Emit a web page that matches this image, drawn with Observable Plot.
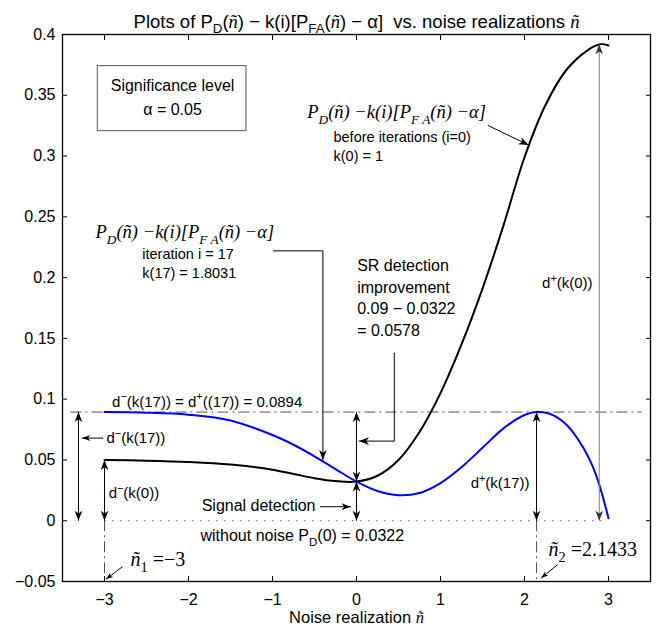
<!DOCTYPE html>
<html><head><meta charset="utf-8">
<script src="https://cdn.jsdelivr.net/npm/d3@7"></script>
<script src="https://cdn.jsdelivr.net/npm/@observablehq/plot@0.6"></script>
<style>body{margin:0;background:#fff} svg{display:block}</style>
</head><body><div id="chart"></div>
<script>
// ---- data ----
const xBlack = [-3.0,-2.5,-2.0,-1.5,-1.0,-0.75,-0.5,-0.25,0.0,0.25,0.5,0.75,1.0,1.25,1.5,1.75,2.0,2.25,2.5,2.75,2.9,3.0];
const yBlack = [0.0500,0.0494,0.0483,0.0462,0.0420,0.0385,0.0350,0.0326,0.0322,0.0370,0.0500,0.0730,0.1050,0.1450,0.1910,0.2430,0.2990,0.3420,0.3710,0.3870,0.3920,0.3910];
const xBlue = [-3.0,-2.5,-2.0,-1.5,-1.0,-0.75,-0.5,-0.25,0.0,0.25,0.5,0.75,1.0,1.25,1.5,1.75,2.0,2.1433,2.3,2.5,2.7,2.85,3.0];
const yBlue = [0.0894,0.0889,0.0872,0.0825,0.0705,0.0625,0.0530,0.0425,0.0322,0.0245,0.0210,0.0228,0.0310,0.0440,0.0600,0.0760,0.0870,0.0894,0.0880,0.0790,0.0600,0.0380,0.0020];
const xTicks = [-3,-2,-1,0,1,2,3];
const yTicks = [-0.05,0,0.05,0.1,0.15,0.2,0.25,0.3,0.35,0.4];
const xDomain = [-3.5, 3.5];
const yDomain = [-0.05, 0.4];

// key values
const dPlus17 = 0.0894, pd0 = 0.0322, n1 = -3, n2 = 2.1433, peak0 = 0.392, start0 = 0.05;

// double-headed vertical arrows
const dblArrows = [
  {x: -3.31, y1: 0, y2: dPlus17},
  {x: n1, y1: 0, y2: start0},
  {x: 0, y1: pd0, y2: dPlus17},
  {x: 0, y1: 0, y2: pd0},
  {x: n2, y1: 0, y2: dPlus17}
];
const grayArrow = [{x: 2.89, y1: 0, y2: peak0}];

// single-headed (poly)line arrows, head at the last point
const arrowPaths = [
  [[-3.02, 0.068], [-3.265, 0.068]],
  [[1.57, 0.325], [2.05, 0.309]],
  [[-0.99, 0.222], [-0.40, 0.222], [-0.40, 0.050]],
  [[0.45, 0.138], [0.45, 0.0655], [0.03, 0.0655]],
  [[-0.43, 0.0115], [-0.07, 0.0115]],
  [[-2.79, -0.038], [-2.98, -0.048]],
  [[2.39, -0.0364], [2.20, -0.047]]
];
const arrowHeadSizes = [8, 10, 10, 10, 9, 7, 7];

// texts
const titleText = "Plots of P_{D}(*{ñ}) − k(i)[P_{FA}(*{ñ}) − α]  vs. noise realizations *{ñ}";
const xLabelText = "Noise realization *{ñ}";
const mathLabels = [
  {x: -0.587, y: 0.336, text: "P_{D}(ñ) −k(i)[P_{F A}(ñ) −α]"},
  {x: -3.107, y: 0.2374, text: "P_{D}(ñ) −k(i)[P_{F A}(ñ) −α]"}
];
const smallLabels = [
  {x: -0.274, y: 0.3085, text: "before iterations (i=0)\nk(0) = 1"},
  {x: -2.55, y: 0.2125, text: "iteration i = 17\nk(17) = 1.8031"}
];
const boxLabel = [{x: -2.19, y: 0.350, text: "Significance level\nα = 0.05"}];
const box = [{x1: -3.08, x2: -1.31, y1: 0.3205, y2: 0.374}];
const srLabel = [{x: 0.008, y: 0.1845, text: "SR detection\nimprovement\n0.09 − 0.0322\n= 0.0578"}];
const startLabels = [
  {x: -1.857, y: -0.0127, text: "without noise P_{D}(0) = 0.0322", size: 16},
  {x: -2.91, y: 0.0979, text: "d^{−}(k(17)) = d^{+}((17)) = 0.0894", size: 15},
  {x: -2.976, y: 0.068, text: "d^{−}(k(17))", size: 15},
  {x: -2.95, y: 0.0228, text: "d^{−}(k(0))", size: 15}
];
const endLabels = [
  {x: -0.488, y: 0.0121, text: "Signal detection", size: 16},
  {x: 2.06, y: 0.031, text: "d^{+}(k(17))", size: 15},
  {x: 2.81, y: 0.1953, text: "d^{+}(k(0))", size: 15}
];
const nLabels = [
  {x: -2.69, y: -0.0323, text: "*{ñ}_{1} =−3"},
  {x: 2.286, y: -0.024, text: "*{ñ}_{2} =2.1433"}
];

// ---- layout ----
const W = 667, H = 636, mL = 62, mR = 17, mT = 34, mB = 55;
const SANS = "'Liberation Sans', Arial, Helvetica, sans-serif";
const SERIF = "'Liberation Serif', 'Times New Roman', serif";
const fmt = d => String(Math.round(d * 100) / 100).replace("-", "−");
const xs = Plot.scale({x: {domain: xDomain, range: [mL, W - mR]}});
const ys = Plot.scale({y: {domain: yDomain, range: [H - mB, mT]}});

function arrowSymbol(theta) {
  return {
    draw(ctx, size) {
      const L = Math.sqrt(size / Math.PI), w = 0.38 * L, n = 0.72 * L;
      const c = Math.cos(theta), s = Math.sin(theta);
      const p = [[0, 0], [-w, L], [0, n], [w, L]].map(([a, b]) => [a * c - b * s, a * s + b * c]);
      ctx.moveTo(p[0][0], p[0][1]);
      for (let i = 1; i < p.length; i++) ctx.lineTo(p[i][0], p[i][1]);
      ctx.closePath();
    }
  };
}
const pts = (xa, ya) => xa.map((x, i) => ({x, y: ya[i]}));

const marks = [];
// reference lines
marks.push(Plot.ruleY([{y: dPlus17, x1: -3.4, x2: 3.4}], {y: "y", x1: "x1", x2: "x2", stroke: "#505050", strokeWidth: 1, strokeDasharray: "11,4,2,4"}));
marks.push(Plot.ruleY([{y: 0, x1: -3, x2: 3}], {y: "y", x1: "x1", x2: "x2", stroke: "#ff3030", strokeWidth: 1, strokeDasharray: "1.5,6.5"}));
marks.push(Plot.ruleX([{x: n1}, {x: n2}], {x: "x", y1: () => 0, y2: () => -0.05, stroke: "#505050", strokeWidth: 1, strokeDasharray: "11,4,2,4"}));
// curves
marks.push(Plot.line(pts(xBlack, yBlack), {x: "x", y: "y", stroke: "black", strokeWidth: 2, curve: "catmull-rom"}));
marks.push(Plot.line(pts(xBlue, yBlue), {x: "x", y: "y", stroke: "#0000ff", strokeWidth: 2, curve: "catmull-rom"}));
// box
marks.push(Plot.rect(box, {x1: "x1", x2: "x2", y1: "y1", y2: "y2", fill: "white", stroke: "#555", strokeWidth: 1}));
// double arrows
marks.push(Plot.link(dblArrows, {x1: "x", x2: "x", y1: "y1", y2: "y2", stroke: "black", strokeWidth: 1}));
marks.push(Plot.dot(dblArrows, {x: "x", y: "y1", r: 10, symbol: arrowSymbol(Math.PI), fill: "black", stroke: "none"}));
marks.push(Plot.dot(dblArrows, {x: "x", y: "y2", r: 10, symbol: arrowSymbol(0), fill: "black", stroke: "none"}));
marks.push(Plot.link(grayArrow, {x1: "x", x2: "x", y1: "y1", y2: "y2", stroke: "#808080", strokeWidth: 1}));
marks.push(Plot.dot(grayArrow, {x: "x", y: "y1", r: 10, symbol: arrowSymbol(Math.PI), fill: "#333", stroke: "none"}));
marks.push(Plot.dot(grayArrow, {x: "x", y: "y2", r: 10, symbol: arrowSymbol(0), fill: "#333", stroke: "none"}));
// single arrows
arrowPaths.forEach((p, i) => {
  const data = p.map(([x, y]) => ({x, y}));
  marks.push(Plot.line(data, {x: "x", y: "y", stroke: "black", strokeWidth: 1}));
  const a = p[p.length - 2], b = p[p.length - 1];
  const dx = xs.apply(b[0]) - xs.apply(a[0]), dy = ys.apply(b[1]) - ys.apply(a[1]);
  const theta = Math.atan2(dx, -dy);
  marks.push(Plot.dot([data[data.length - 1]], {x: "x", y: "y", r: arrowHeadSizes[i], symbol: arrowSymbol(theta), fill: "black", stroke: "none"}));
});
// texts
marks.push(Plot.text(mathLabels, {x: "x", y: "y", text: "text", textAnchor: "start", fontFamily: SERIF, fontStyle: "italic", fontSize: 18.5, fill: "black"}));
marks.push(Plot.text(smallLabels, {x: "x", y: "y", text: "text", textAnchor: "start", fontSize: 14.5, lineHeight: 1.27, fill: "black"}));
marks.push(Plot.text(boxLabel, {x: "x", y: "y", text: "text", textAnchor: "middle", fontSize: 16, lineHeight: 1.5, fill: "black"}));
marks.push(Plot.text(srLabel, {x: "x", y: "y", text: "text", textAnchor: "start", fontSize: 16, lineHeight: 1.36, fill: "black"}));
marks.push(Plot.text(startLabels, {x: "x", y: "y", text: "text", textAnchor: "start", fontSize: d => d.size, fill: "black"}));
marks.push(Plot.text(endLabels, {x: "x", y: "y", text: "text", textAnchor: "end", fontSize: d => d.size, fill: "black"}));
marks.push(Plot.text(nLabels, {x: "x", y: "y", text: "text", textAnchor: "start", fontFamily: SERIF, fontSize: 20, fill: "black"}));
marks.push(Plot.text([titleText], {frameAnchor: "top", dy: -20, fontSize: 18.5, fill: "black"}));
marks.push(Plot.text([xLabelText], {frameAnchor: "bottom", dy: 41, fontSize: 16.5, fill: "black"}));
// axes
marks.push(Plot.axisX(xTicks, {anchor: "bottom", tickSize: 0, tickPadding: 12, tickFormat: fmt, fontSize: 16, label: null}));
marks.push(Plot.axisY(yTicks, {anchor: "left", tickSize: 0, tickPadding: 7, tickFormat: fmt, fontSize: 16, label: null}));
marks.push(Plot.axisX(xTicks, {anchor: "bottom", tickSize: -5, tickFormat: () => "", label: null}));
marks.push(Plot.axisX(xTicks, {anchor: "top", tickSize: -5, tickFormat: () => "", label: null}));
marks.push(Plot.axisY(yTicks, {anchor: "left", tickSize: -5, tickFormat: () => "", label: null}));
marks.push(Plot.axisY(yTicks, {anchor: "right", tickSize: -5, tickFormat: () => "", label: null}));
marks.push(Plot.frame({stroke: "black", strokeWidth: 1.3}));

const chart = Plot.plot({
  width: W, height: H,
  marginLeft: mL, marginRight: mR, marginTop: mT, marginBottom: mB,
  x: {domain: xDomain, label: null},
  y: {domain: yDomain, label: null},
  style: {fontFamily: SANS, fontSize: "16px", background: "white", color: "black"},
  marks
});
document.getElementById("chart").append(chart);

// rich text: _{sub}, ^{sup}, *{math italic}
function richify(el) {
  const s = el.textContent;
  if (!/[_^*]\{/.test(s) || el.querySelector("tspan")) return;
  const base = parseFloat(getComputedStyle(el).fontSize) || 16;
  el.textContent = "";
  el.style.whiteSpace = "pre";
  const re = /([_^*])\{([^}]*)\}/g;
  let last = 0, m, shift = 0;
  const add = (txt, o) => {
    const t = document.createElementNS("http://www.w3.org/2000/svg", "tspan");
    t.textContent = txt;
    const target = o.shift || 0;
    if (target !== shift) { t.setAttribute("dy", target - shift); shift = target; }
    if (o.size) t.setAttribute("font-size", o.size);
    if (o.italic) { t.setAttribute("font-style", "italic"); t.setAttribute("font-family", SERIF); }
    el.appendChild(t);
  };
  while ((m = re.exec(s))) {
    if (m.index > last) add(s.slice(last, m.index), {});
    if (m[1] === "_") add(m[2], {shift: 0.3 * base, size: 0.72 * base});
    else if (m[1] === "^") add(m[2], {shift: -0.42 * base, size: 0.72 * base});
    else add(m[2], {italic: true});
    last = re.lastIndex;
  }
  if (last < s.length) add(s.slice(last), {});
}
d3.select(chart).selectAll("text").each(function () { richify(this); });
</script>
</body></html>
